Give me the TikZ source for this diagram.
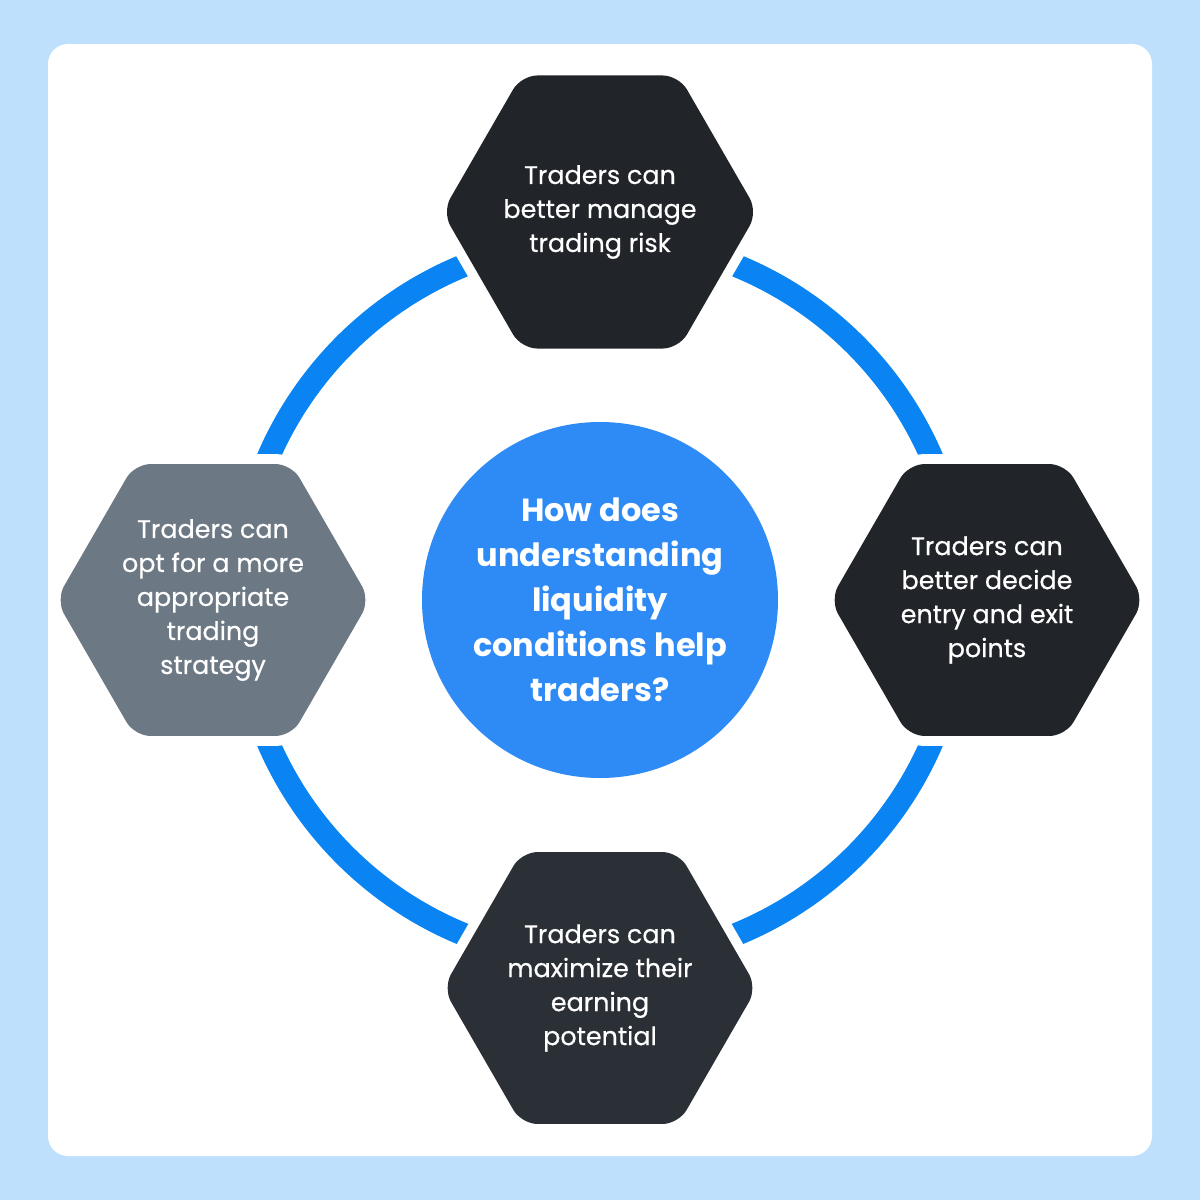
\documentclass[tikz,border=0pt]{standalone}
\usepackage{fontspec}
\setmainfont{Poppins}
\newfontfamily\hexfont{Poppins}[FakeBold=0.5]
\usetikzlibrary{shapes.geometric}
\definecolor{bgblue}{HTML}{BEE0FC}
\definecolor{ringblue}{HTML}{0A84F2}
\definecolor{circblue}{HTML}{2E8BF6}
\definecolor{hexdark}{HTML}{212529}
\definecolor{hexdarkb}{HTML}{2B3037}
\definecolor{hexgray}{HTML}{6C7883}
\tikzset{
  hexbox/.style={regular polygon, regular polygon sides=6, minimum size=157pt,
    inner sep=0pt, outer sep=0pt, rounded corners=8pt, text=white, align=center,
    font=\hexfont\fontsize{12.7}{17}\selectfont,
    preaction={draw=white, line width=10pt}},
  hubnode/.style={circle, minimum size=178pt, inner sep=0pt, fill=circblue,
    text=white, align=center, font=\bfseries\fontsize{16}{22.5}\selectfont},
  ringline/.style={draw=ringblue, line width=11.5pt}
}
\begin{document}
\begin{tikzpicture}[x=0.5pt,y=-0.5pt]
\useasboundingbox (0,0) rectangle (1200,1200);
\fill[bgblue] (0,0) rectangle (1200,1200);
\fill[white, rounded corners=10pt] (48,44) rectangle (1152,1156);
\coordinate (c) at (600,600);
\draw[ringline] (c) circle (361);
\node[hubnode] (hub) at (600,600) {How does\\understanding\\liquidity\\conditions help\\traders?};
\node[hexbox, fill=hexdark] (top) at (600,212) {Traders can\\better manage\\trading risk};
\node[hexbox, fill=hexdark] (right) at (987,600) {Traders can\\better decide\\entry and exit\\points};
\node[hexbox, fill=hexdarkb] (bottom) at (600,988) {Traders can\\maximize their\\earning\\potential};
\node[hexbox, fill=hexgray] (left) at (213,600) {Traders can\\opt for a more\\appropriate\\trading\\strategy};
\end{tikzpicture}
\end{document}
